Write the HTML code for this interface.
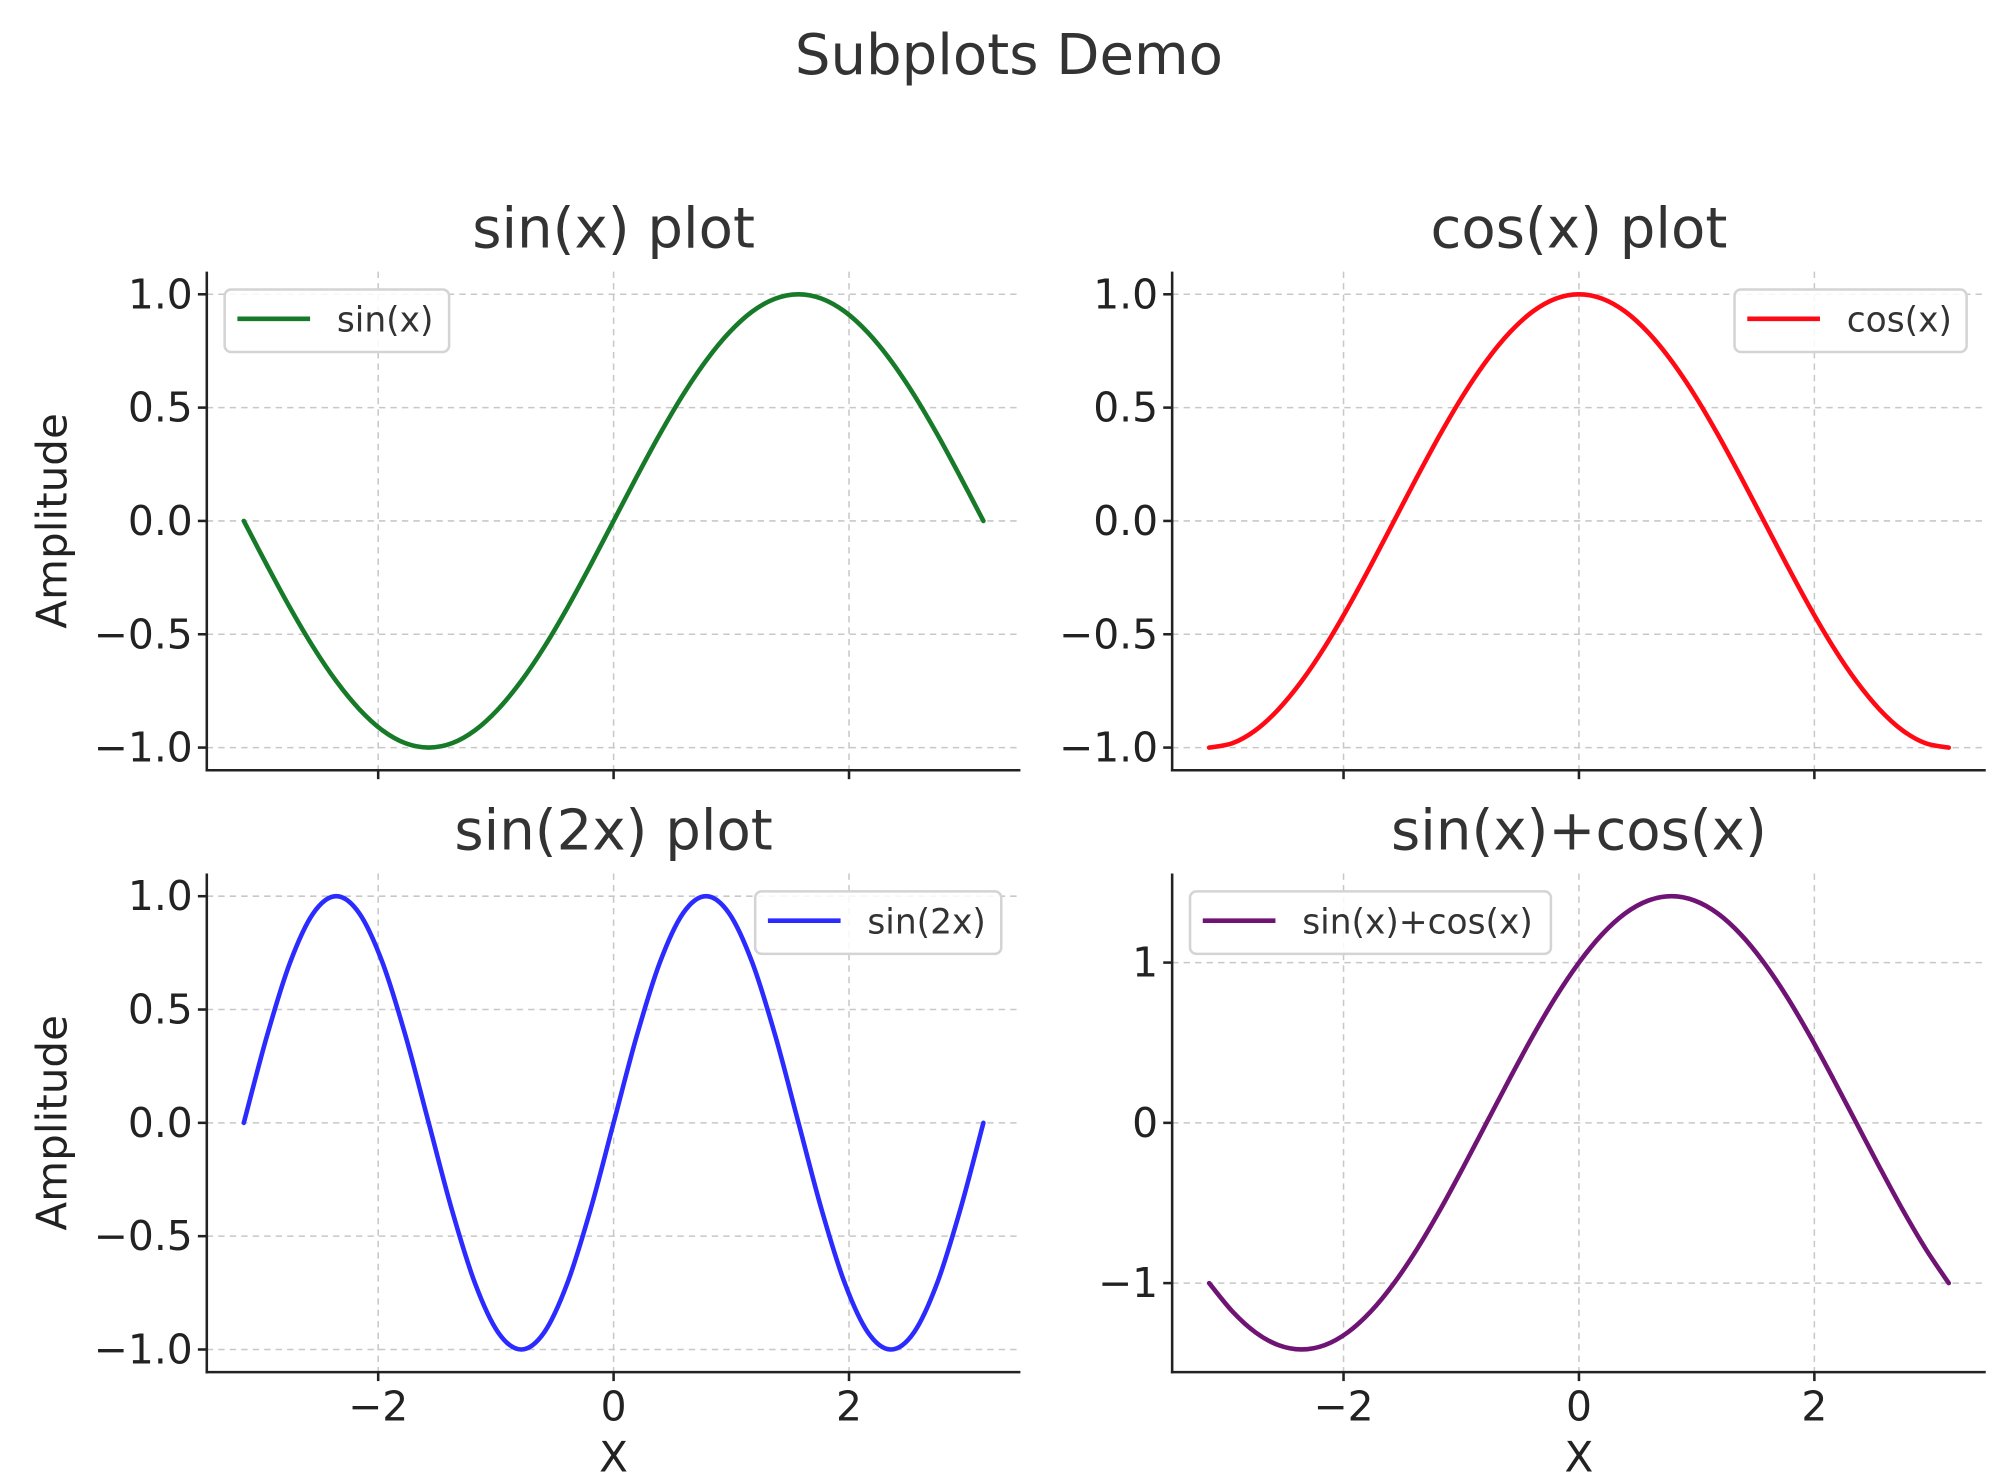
<!DOCTYPE html>
<html><head><meta charset="utf-8"><style>
html,body{margin:0;padding:0;background:#fff}
svg{display:block;font-family:"DejaVu Sans","Liberation Sans",sans-serif}
</style></head><body>
<svg id="fig" width="2000" height="1478" viewBox="0 0 1568 1159" xmlns="http://www.w3.org/2000/svg">
<rect width="1568" height="1159" fill="#fff"/>
<text x="791" y="58" text-anchor="middle" font-size="44" fill="#333">Subplots Demo</text>
</svg>
<script>
const xValues=[-3.1416,-2.9452,-2.7489,-2.5525,-2.3562,-2.1598,-1.9635,-1.7671,-1.5708,-1.3744,-1.1781,-0.9817,-0.7854,-0.5890,-0.3927,-0.1963,0,0.1963,0.3927,0.5890,0.7854,0.9817,1.1781,1.3744,1.5708,1.7671,1.9635,2.1598,2.3562,2.5525,2.7489,2.9452,3.1416];
const sinValues=[0,-.195,-.383,-.556,-.707,-.831,-.924,-.981,-1,-.981,-.924,-.831,-.707,-.556,-.383,-.195,0,.195,.383,.556,.707,.831,.924,.981,1,.981,.924,.831,.707,.556,.383,.195,0];
const cosValues=[-1,-.981,-.924,-.831,-.707,-.556,-.383,-.195,0,.195,.383,.556,.707,.831,.924,.981,1,.981,.924,.831,.707,.556,.383,.195,0,-.195,-.383,-.556,-.707,-.831,-.924,-.981,-1];
const sin2xValues=[0,.383,.707,.924,1,.924,.707,.383,0,-.383,-.707,-.924,-1,-.924,-.707,-.383,0,.383,.707,.924,1,.924,.707,.383,0,-.383,-.707,-.924,-1,-.924,-.707,-.383,0];
const sumValues=[-1,-1.176,-1.307,-1.387,-1.414,-1.387,-1.307,-1.176,-1,-.786,-.541,-.275,0,.275,.541,.786,1,1.176,1.307,1.387,1.414,1.387,1.307,1.176,1,.786,.541,.275,0,-.275,-.541,-.786,-1];
const xTicks=[-2,0,2];
const xTickLabels=["\u22122","0","2"];
const yTicksA=[-1,-0.5,0,0.5,1];
const yTickLabelsA=["\u22121.0","\u22120.5","0.0","0.5","1.0"];
const yTicksB=[-1,0,1];
const yTickLabelsB=["\u22121","0","1"];

const NS="http://www.w3.org/2000/svg";
const svg=document.getElementById('fig');
function mk(tag,attrs,parent){const e=document.createElementNS(NS,tag);for(const k in attrs)e.setAttribute(k,attrs[k]);(parent||svg).appendChild(e);return e;}

const panels=[
 {name:'sin',title:'sin(x) plot',L:162,R:800,T:213,B:604,ys:sinValues,color:'#177a28',label:'sin(x)',yt:yTicksA,ytl:yTickLabelsA,ylim:1.1,xlab:false,ylab:true,leg:[176,227,176]},
 {name:'cos',title:'cos(x) plot',L:919,R:1557,T:213,B:604,ys:cosValues,color:'#ff0a14',label:'cos(x)',yt:yTicksA,ytl:yTickLabelsA,ylim:1.1,xlab:false,ylab:false,leg:[1360,227,182]},
 {name:'sin2x',title:'sin(2x) plot',L:162,R:800,T:685,B:1076,ys:sin2xValues,color:'#2b2bff',label:'sin(2x)',yt:yTicksA,ytl:yTickLabelsA,ylim:1.1,xlab:true,ylab:true,leg:[592,699,193]},
 {name:'sum',title:'sin(x)+cos(x)',L:919,R:1557,T:685,B:1076,ys:sumValues,color:'#6f1474',label:'sin(x)+cos(x)',yt:yTicksB,ytl:yTickLabelsB,ylim:1.5556,xlab:true,ylab:false,leg:[933,699,283]}
];
const XLIM=3.456;
panels.forEach(p=>{
  const g=mk('g',{});
  
  
  const cx=(p.L+p.R)/2, cy=(p.T+p.B)/2;
  const sx=v=>cx+v*(p.R-p.L)/(2*XLIM);
  const sy=v=>cy-v*(p.B-p.T)/(2*p.ylim);
  xTicks.forEach(t=>{const l=mk('line',{x1:sx(t),x2:sx(t),y1:p.T,y2:p.B,stroke:'#c8c8c8','stroke-width':1.2,'stroke-dasharray':'5,4'},g);
    });
  p.yt.forEach(t=>{const l=mk('line',{x1:p.L,x2:p.R,y1:sy(t),y2:sy(t),stroke:'#c8c8c8','stroke-width':1.2,'stroke-dasharray':'5,4'},g);
    });
  const pts=xValues.map((x,i)=>[sx(x),sy(p.ys[i])]);
  let d='M'+pts[0][0]+','+pts[0][1];
  for(let i=0;i<pts.length-1;i++){const p0=pts[Math.max(0,i-1)],p1=pts[i],p2=pts[i+1],p3=pts[Math.min(pts.length-1,i+2)];
    d+=' C'+(p1[0]+(p2[0]-p0[0])/6)+','+(p1[1]+(p2[1]-p0[1])/6)+' '+(p2[0]-(p3[0]-p1[0])/6)+','+(p2[1]-(p3[1]-p1[1])/6)+' '+p2[0]+','+p2[1];}
  const line=mk('path',{d:d,fill:'none',stroke:p.color,'stroke-width':3.6,'stroke-linejoin':'round','stroke-linecap':'round'},g);
  
  const sl=mk('line',{x1:p.L,x2:p.L,y1:p.T,y2:p.B+1,stroke:'#222','stroke-width':2},g);
  
  const sb=mk('line',{x1:p.L-1,x2:p.R,y1:p.B,y2:p.B,stroke:'#222','stroke-width':2},g);
  
  xTicks.forEach((t,i)=>{const tk=mk('line',{x1:sx(t),x2:sx(t),y1:p.B,y2:p.B+7,stroke:'#222','stroke-width':2},g);
    
    if(p.xlab){const tl=mk('text',{x:sx(t),y:p.B+38,'text-anchor':'middle','font-size':32,fill:'#222'},g);tl.textContent=xTickLabels[i];
      }});
  p.yt.forEach((t,i)=>{const tk=mk('line',{x1:p.L-7,x2:p.L,y1:sy(t),y2:sy(t),stroke:'#222','stroke-width':2},g);
    
    const tl=mk('text',{x:p.L-11,y:sy(t)+11,'text-anchor':'end','font-size':32,fill:'#222'},g);tl.textContent=p.ytl[i];
    });
  const tt=mk('text',{x:cx,y:p.T-19,'text-anchor':'middle','font-size':44,fill:'#333'},g);tt.textContent=p.title;
  
  if(p.ylab){const yl=mk('text',{x:0,y:0,'text-anchor':'middle','font-size':33,fill:'#222',transform:'translate(52,'+cy+') rotate(-90)'},g);yl.textContent='Amplitude';
    }
  if(p.xlab){const xl=mk('text',{x:cx,y:p.B+78,'text-anchor':'middle','font-size':33,fill:'#222'},g);xl.textContent='X';
    }
  const [lx,ly,lw]=p.leg;
  const lg=mk('g',{},g);
  mk('rect',{x:lx,y:ly,width:lw,height:49,rx:5,fill:'#fff','fill-opacity':0.85,stroke:'#d4d4d4','stroke-width':2},lg);
  const ls=mk('line',{x1:lx+10,x2:lx+67,y1:ly+23,y2:ly+23,stroke:p.color,'stroke-width':3.6},lg);
  
  const lt=mk('text',{x:lx+88,y:ly+33,'font-size':27,fill:'#333'},lg);lt.textContent=p.label;
  
});
</script>
</body></html>
